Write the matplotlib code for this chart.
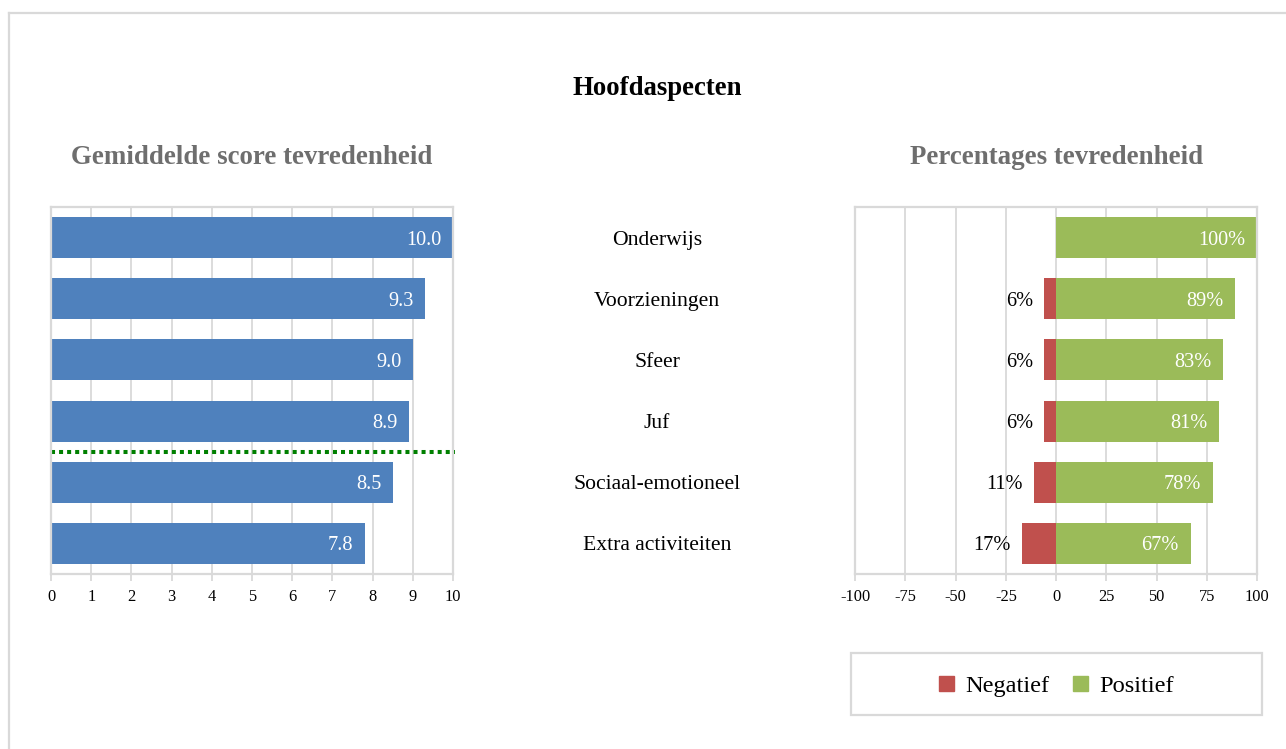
import matplotlib
matplotlib.use("Agg")
import matplotlib.pyplot as plt
import matplotlib.transforms as mtransforms
from matplotlib.lines import Line2D
from matplotlib.patches import Rectangle, Patch

plt.rcParams['font.family'] = ['Liberation Serif', 'DejaVu Serif']
plt.rcParams['axes.unicode_minus'] = False

# data
categories = ["Onderwijs", "Voorzieningen", "Sfeer", "Juf", "Sociaal-emotioneel", "Extra activiteiten"]
mean_scores = [10.0, 9.3, 9.0, 8.9, 8.5, 7.8]
pct_negative = [0, 6, 6, 6, 11, 17]
pct_positive = [100, 89, 83, 81, 78, 67]
score_ticks = list(range(0, 11))
pct_ticks = [-100, -75, -50, -25, 0, 25, 50, 75, 100]
threshold_pos = 3.5  # dotted line between Juf and Sociaal-emotioneel

BLUE = "#4F81BD"
RED = "#C0504D"
GREEN = "#9BBB59"
GRID = "#D9D9D9"
TITLE_GRAY = "#6E6E6E"

fig = plt.figure(figsize=(12.86, 7.49), dpi=100)

# outer frame (only top and left edges visible)
fig.add_artist(Line2D([0.0068, 0.0068], [0, 0.9833], color=GRID, lw=1.6, transform=fig.transFigure))
fig.add_artist(Line2D([0.0068, 1.0], [0.9833, 0.9833], color=GRID, lw=1.6, transform=fig.transFigure))

fig.text(0.511, 0.882, "Hoofdaspecten", ha="center", va="center", fontsize=19.3, fontweight="bold")

ax1 = fig.add_axes([0.0397, 0.2336, 0.3126, 0.49])
ax2 = fig.add_axes([0.6649, 0.2336, 0.3126, 0.49])

ypos = list(range(len(categories)))
bar_h = 0.67


def style_axis(ax, ticks, lim):
    ax.set_xlim(*lim)
    ax.set_ylim(len(categories) - 0.5, -0.5)
    ax.set_xticks(ticks)
    ax.set_yticks([])
    ax.grid(axis="x", color=GRID, lw=1.3)
    ax.set_axisbelow(True)
    for s in ax.spines.values():
        s.set_color(GRID)
        s.set_linewidth(1.6)
    ax.tick_params(axis="x", length=5, width=1.3, color=GRID, labelsize=11.8, pad=6)


# left: mean scores
ax1.barh(ypos, mean_scores, height=bar_h, color=BLUE)
style_axis(ax1, score_ticks, (0, 10))
for y, v in zip(ypos, mean_scores):
    ax1.annotate(f"{v:.1f}", (v, y), xytext=(-8, 0), textcoords="offset points",
                 ha="right", va="center_baseline", color="white", fontsize=14.6)
ax1.axhline(threshold_pos, xmin=0, xmax=1.005, color="#008000", lw=2.9,
            linestyle=(0, (1, 1)), clip_on=False)
ax1.set_title("Gemiddelde score tevredenheid", fontsize=19.4, fontweight="bold",
              color=TITLE_GRAY, pad=31)

# right: percentages
ax2.barh(ypos, [-n for n in pct_negative], height=bar_h, color=RED)
ax2.barh(ypos, pct_positive, height=bar_h, color=GREEN)
style_axis(ax2, pct_ticks, (-100, 100))
for y, n, p in zip(ypos, pct_negative, pct_positive):
    ax2.annotate(f"{p}%", (p, y), xytext=(-8.5, 0), textcoords="offset points",
                 ha="right", va="center_baseline", color="white", fontsize=14.6)
    if n > 0:
        ax2.annotate(f"{n}%", (-n, y), xytext=(-8, 0), textcoords="offset points",
                     ha="right", va="center_baseline", color="black", fontsize=14.6)
ax2.set_title("Percentages tevredenheid", fontsize=19.4, fontweight="bold",
              color=TITLE_GRAY, pad=31)

# category labels in the middle
trans = mtransforms.blended_transform_factory(fig.transFigure, ax1.transData)
for y, c in zip(ypos, categories):
    fig.text(0.511, y, c, transform=trans, ha="center", va="center_baseline", fontsize=15.6)

# legend with frame
fig.add_artist(Rectangle((0.6617, 0.0454), 0.3196, 0.0828, transform=fig.transFigure,
                         fill=False, edgecolor=GRID, lw=1.6))
handles = [Patch(color=RED, label="Negatief"), Patch(color=GREEN, label="Positief")]
fig.legend(handles=handles, loc="center", bbox_to_anchor=(0.8215, 0.0835), ncol=2,
           frameon=False, fontsize=17.6, handlelength=0.6, handleheight=0.6,
           handletextpad=0.45, columnspacing=1.0)

fig.savefig("out.png", dpi=100)
